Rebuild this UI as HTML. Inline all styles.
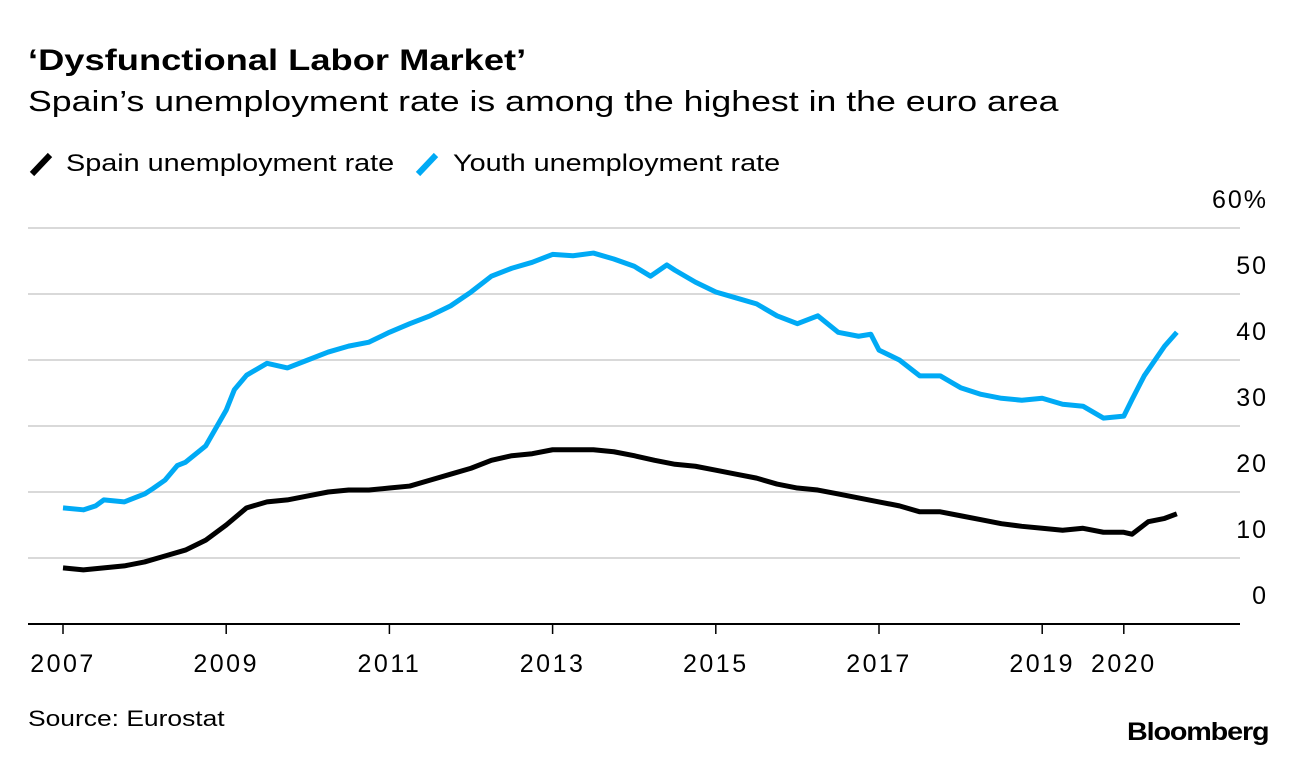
<!DOCTYPE html>
<html><head><meta charset="utf-8">
<style>
body{margin:0;background:#fff;font-family:"Liberation Sans",sans-serif;}
#wrap{position:relative;width:1296px;height:760px;overflow:hidden;}
.t{position:absolute;white-space:nowrap;color:#000;transform-origin:left top;}
</style></head>
<body>
<div id="wrap">
<div class="t" style="left:28px;top:44px;font-size:30px;font-weight:bold;transform:scaleX(1.21);">‘Dysfunctional Labor Market’</div>
<div class="t" style="left:28px;top:86px;font-size:29px;transform:scaleX(1.23);">Spain’s unemployment rate is among the highest in the euro area</div>
<div>
<svg style="position:absolute;left:28px;top:150px" width="28" height="28"><line x1="4" y1="24" x2="22" y2="5" stroke="#000" stroke-width="6"/></svg>
<div class="t" style="left:66px;top:150px;font-size:24px;transform:scaleX(1.2);">Spain unemployment rate</div>
<svg style="position:absolute;left:414px;top:150px" width="28" height="28"><line x1="4" y1="24" x2="22" y2="5" stroke="#00aaf5" stroke-width="6"/></svg>
<div class="t" style="left:453px;top:150px;font-size:24px;transform:scaleX(1.2);">Youth unemployment rate</div>
</div>
<svg id="plot" style="position:absolute;left:0;top:0" width="1296" height="760"></svg>
<div class="t" style="left:28px;top:706px;font-size:22px;transform:scaleX(1.2);">Source: Eurostat</div>
<div class="t" style="left:1127px;top:718px;font-size:25px;font-weight:bold;letter-spacing:-1px;transform:scaleX(1.15);">Bloomberg</div>
</div>
<script>
const yTicks=[0,10,20,30,40,50,60];
const yTickLabels=["0","10","20","30","40","50","60%"];
const xTicks=[2007,2009,2011,2013,2015,2017,2019,2020];
const xTickLabels=["2007","2009","2011","2013","2015","2017","2019","2020"];
const youthDates=[2007,2007.25,2007.4,2007.5,2007.75,2008,2008.1,2008.25,2008.4,2008.5,2008.75,2009,2009.1,2009.25,2009.5,2009.75,2010,2010.25,2010.5,2010.75,2011,2011.25,2011.5,2011.75,2012,2012.25,2012.5,2012.75,2013,2013.25,2013.5,2013.75,2014,2014.2,2014.4,2014.5,2014.75,2015,2015.25,2015.5,2015.75,2016,2016.25,2016.5,2016.75,2016.9,2017,2017.25,2017.5,2017.75,2018,2018.25,2018.5,2018.75,2019,2019.25,2019.5,2019.75,2020,2020.1,2020.25,2020.5,2020.65];
const youthValues=[17.6,17.3,17.9,18.8,18.5,19.7,20.5,21.8,24,24.5,27,32.4,35.5,37.7,39.5,38.8,40,41.2,42.1,42.7,44.2,45.5,46.7,48.2,50.3,52.7,53.9,54.8,56,55.8,56.2,55.3,54.2,52.7,54.4,53.6,51.8,50.3,49.4,48.5,46.7,45.5,46.7,44.2,43.6,43.9,41.5,40,37.6,37.6,35.8,34.8,34.2,33.9,34.2,33.3,33,31.2,31.5,34,37.6,42.1,44.2];
const spainDates=[2007,2007.25,2007.5,2007.75,2008,2008.25,2008.5,2008.75,2009,2009.25,2009.5,2009.75,2010,2010.25,2010.5,2010.75,2011,2011.25,2011.5,2011.75,2012,2012.25,2012.5,2012.75,2013,2013.25,2013.5,2013.75,2014,2014.25,2014.5,2014.75,2015,2015.25,2015.5,2015.75,2016,2016.25,2016.5,2016.75,2017,2017.25,2017.5,2017.75,2018,2018.25,2018.5,2018.75,2019,2019.25,2019.5,2019.75,2020,2020.1,2020.3,2020.5,2020.65];
const spainValues=[8.5,8.2,8.5,8.8,9.4,10.3,11.2,12.7,15,17.6,18.5,18.8,19.4,20,20.3,20.3,20.6,20.9,21.8,22.7,23.6,24.8,25.5,25.8,26.4,26.4,26.4,26.1,25.5,24.8,24.2,23.9,23.3,22.7,22.1,21.2,20.6,20.3,19.7,19.1,18.5,17.9,17,17,16.4,15.8,15.2,14.8,14.5,14.2,14.5,13.9,13.9,13.6,15.5,16,16.7];

const NS="http://www.w3.org/2000/svg";
const svg=document.getElementById('plot');
const xS=d=>63+(d-2007)*81.6;
const yS=v=>624-v*6.6;
function mk(tag,attrs){const e=document.createElementNS(NS,tag);for(const k in attrs)e.setAttribute(k,attrs[k]);svg.appendChild(e);return e;}
yTicks.forEach((v,i)=>{
  if(v>0){const g=mk('line',{x1:28,x2:1240,y1:yS(v),y2:yS(v),stroke:'#d9d9d9','stroke-width':2});
  
  }
  const t=mk('text',{x:1268,y:yS(v)-20,'text-anchor':'end','font-size':25,'letter-spacing':2,'font-family':'Liberation Sans, sans-serif'});
  t.textContent=yTickLabels[i];
  
  
});
const ax=mk('line',{x1:28,x2:1240,y1:624,y2:624,stroke:'#000','stroke-width':2});


xTicks.forEach((d,i)=>{
  const tk=mk('line',{x1:xS(d),x2:xS(d),y1:624,y2:634,stroke:'#000','stroke-width':1.5});
  
  
  const t=mk('text',{x:xS(d),y:672,'text-anchor':'middle','font-size':25,'letter-spacing':2.5,'font-family':'Liberation Sans, sans-serif'});
  t.textContent=xTickLabels[i];
  
  
});
function line(dates,vals,color,name){
  const p=mk('polyline',{points:dates.map((d,i)=>xS(d)+','+yS(vals[i])).join(' '),fill:'none',stroke:color,'stroke-width':5,'stroke-linejoin':'round'});
  
  
}
line(youthDates,youthValues,'#00aaf5','youth-unemployment-line');
line(spainDates,spainValues,'#000','spain-unemployment-line');
</script>
</body></html>
